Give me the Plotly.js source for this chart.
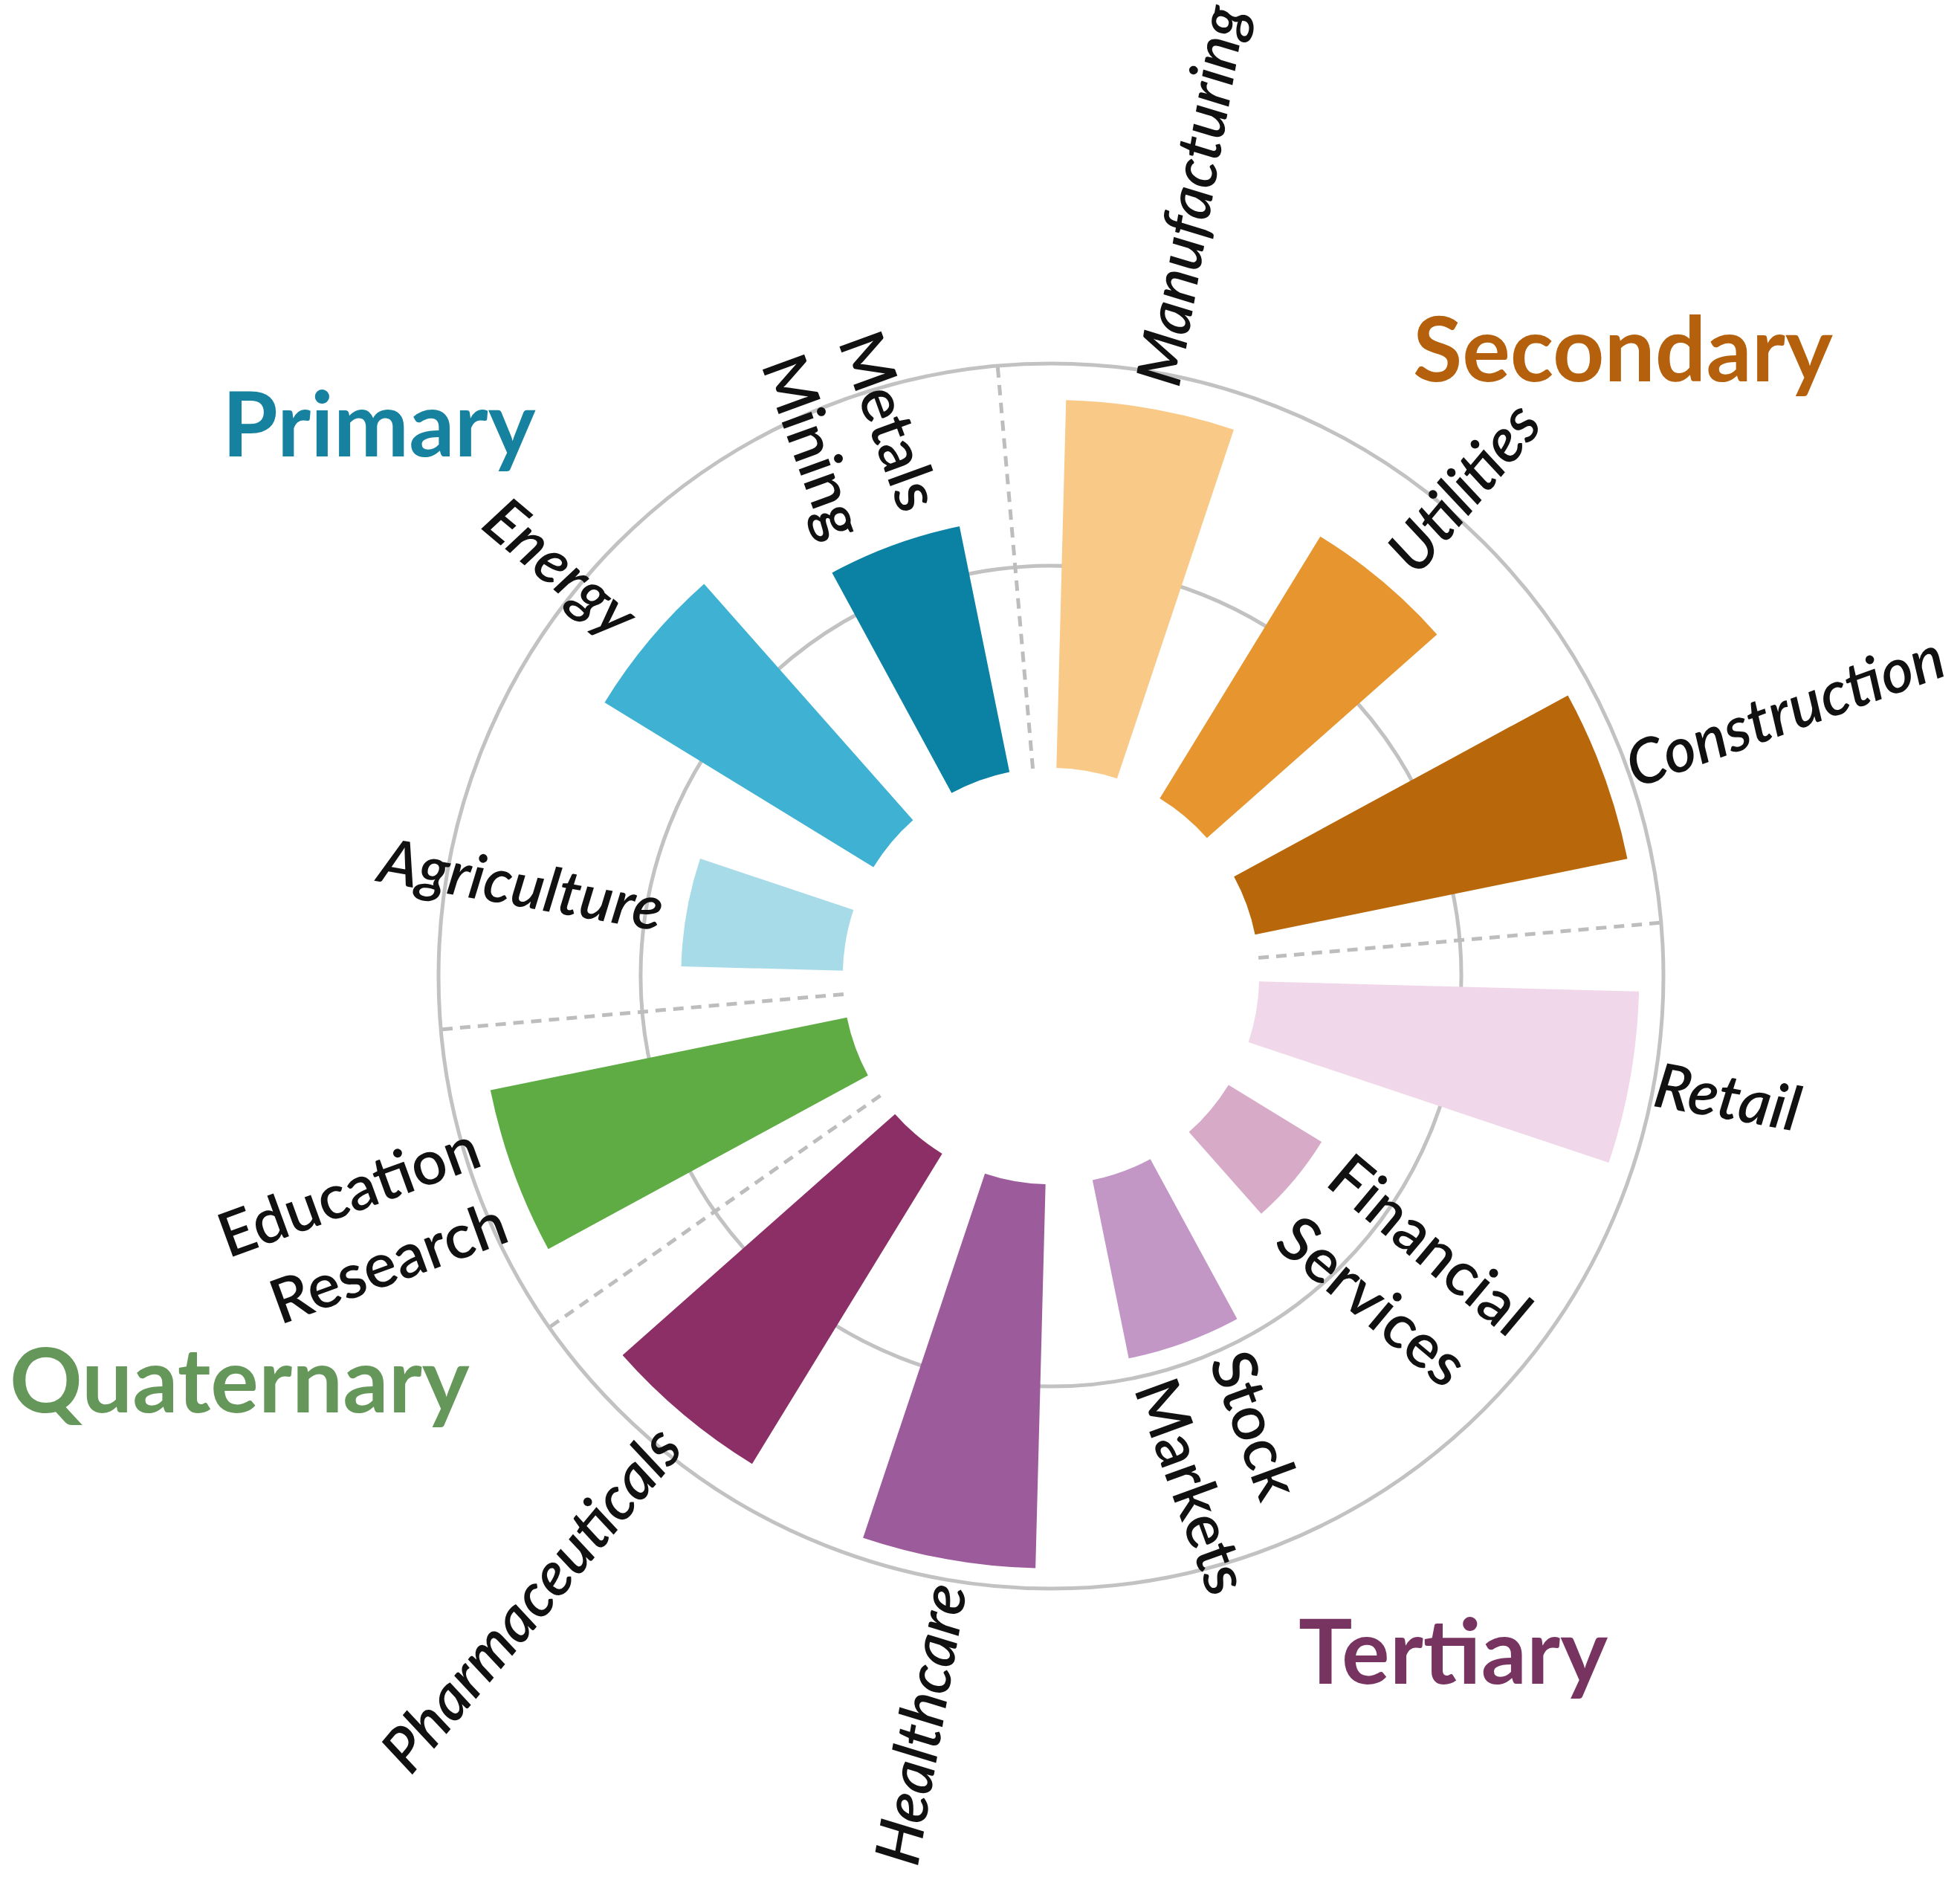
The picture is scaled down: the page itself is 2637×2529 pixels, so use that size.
<!DOCTYPE html>
<html>
<head>
<meta charset="utf-8">
<script src="https://cdn.plot.ly/plotly-3.0.1.min.js"></script>
<style>
  html, body { margin: 0; padding: 0; background: #ffffff; }
  #chart { width: 2637px; height: 2529px; }
</style>
</head>
<body>
<div id="chart"></div>
<script>
// ---------------- data ----------------
const categories = ['Agriculture', 'Energy', 'Metals Mining', 'Manufacturing', 'Utilities', 'Construction',
                    'Retail', 'Financial Services', 'Stock Markets', 'Healthcare', 'Pharmaceuticals', 'Education Research'];
const tickLabels = ['Agriculture', 'Energy', 'Metals<br>Mining', 'Manufacturing', 'Utilities', 'Construction',
                    'Retail', 'Financial<br>Services', 'Stock<br>Markets', 'Healthcare', 'Pharmaceuticals', 'Education<br>Research'];
const values = [40, 78, 62, 91, 76, 94, 94, 27, 45, 95, 90, 90];
const barColors = ['#a8dbe8', '#3fb1d3', '#0b81a3', '#f9c987', '#e6952f', '#b8680a',
                   '#f0d7e9', '#d7abc8', '#c296c5', '#9c5c9b', '#8b2f66', '#5fac45'];
const sectors = ['Primary', 'Secondary', 'Tertiary', 'Quaternary'];
const sectorSizes = [3, 3, 5, 1];
const sectorColors = ['#17829f', '#b5600c', '#783461', '#66975a'];
const gridValues = [50];

// ---------------- geometry / styling ----------------
const W = 2637, H = 2529;
const CX = 1414, CY = 1313, R = 824;   // polar area centre and radius, px
const HOLE = 0.34;                     // empty centre, as share of radius
const RMAX = 100;
const RMIN = -RMAX * HOLE / (1 - HOLE); // radial range start that leaves the empty centre
const STEP = 360 / categories.length;
const ROT = 170;
const thetas = categories.map((_, i) => i * STEP);

const bounds = [];
let acc = 0;
sectorSizes.forEach(n => { bounds.push((acc - 0.5) * STEP); acc += n; });

const sepR = [], sepT = [];
bounds.forEach(b => { sepR.push(0, 104, null); sepT.push(b, b, null); });

const rPx = v => (v - RMIN) / (RMAX - RMIN) * R;

const ctx = document.createElement('canvas').getContext('2d');
function textWidth(lines, font) {
  ctx.font = font;
  return Math.max(...lines.map(l => ctx.measureText(l).width));
}

function build() {
  const LABEL_SIZE = 83;
  const GAP = 34;
  const annotations = [];

  categories.forEach((c, i) => {
    const label = tickLabels[i];
    const lines = label.split('<br>');
    const italic = lines.length === 1;
    const style = italic ? 'italic' : 'normal';
    const font = `${style} 600 ${LABEL_SIZE}px Lato`;
    const tw = textWidth(lines, font);
    let a = ROT - thetas[i];               // math angle (deg, ccw)
    a = ((a % 360) + 540) % 360 - 180;     // (-180,180]
    const rad = a * Math.PI / 180;
    const right = Math.cos(rad) >= -1e-9;
    let ta;
    if (right) ta = -a;
    else { let d = a + 180; d = ((d % 360) + 540) % 360 - 180; ta = -d; }
    const rc = rPx(values[i]) + GAP + tw / 2;
    const px = CX + rc * Math.cos(rad);
    const py = CY - rc * Math.sin(rad);
    annotations.push({
      xref: 'paper', yref: 'paper', x: px / W, y: 1 - py / H,
      xanchor: 'center', yanchor: 'middle', showarrow: false,
      text: label, textangle: ta, align: right ? 'left' : 'right',
      font: { family: 'Lato', size: LABEL_SIZE, color: '#111111', style: style, weight: 600 }
    });
  });

  const titlePos = [[510, 567], [2183, 466], [1955, 2218], [322, 1853]];
  sectors.forEach((s, k) => {
    annotations.push({
      xref: 'paper', yref: 'paper', x: titlePos[k][0] / W, y: 1 - titlePos[k][1] / H,
      xanchor: 'center', yanchor: 'middle', showarrow: false, text: s,
      font: { family: 'Lato', size: 121, color: sectorColors[k], weight: 700 }
    });
  });

  const traces = [
    {
      type: 'barpolar', r: values, theta: thetas, base: 0, width: 17,
      marker: { color: barColors, line: { width: 0 } },
      hoverinfo: 'skip', showlegend: false
    },
    {
      type: 'scatterpolar', mode: 'lines', r: sepR, theta: sepT,
      line: { color: '#bdbdbd', width: 5, dash: '14px,10px' },
      cliponaxis: false, hoverinfo: 'skip', showlegend: false
    }
  ];

  const layout = {
    width: W, height: H,
    margin: { l: 0, r: 0, t: 0, b: 0 },
    paper_bgcolor: '#ffffff',
    showlegend: false,
    polar: {
      domain: { x: [(CX - R) / W, (CX + R) / W], y: [1 - (CY + R) / H, 1 - (CY - R) / H] },
      bgcolor: '#ffffff',
      radialaxis: {
        range: [RMIN, RMAX], tickvals: gridValues, showticklabels: false, ticks: '',
        showline: false, showgrid: true, gridcolor: '#c2c2c2', gridwidth: 5
      },
      angularaxis: {
        type: 'linear', thetaunit: 'degrees', direction: 'clockwise', rotation: ROT,
        showgrid: false, showticklabels: false, ticks: '',
        showline: true, linecolor: '#c2c2c2', linewidth: 5
      }
    },
    annotations: annotations
  };

  Plotly.newPlot('chart', traces, layout, { staticPlot: true });
}

if (document.fonts && document.fonts.ready) {
  document.fonts.load('italic 600 83px Lato').then(() => document.fonts.ready).then(build, build);
} else {
  build();
}
</script>
</body>
</html>
